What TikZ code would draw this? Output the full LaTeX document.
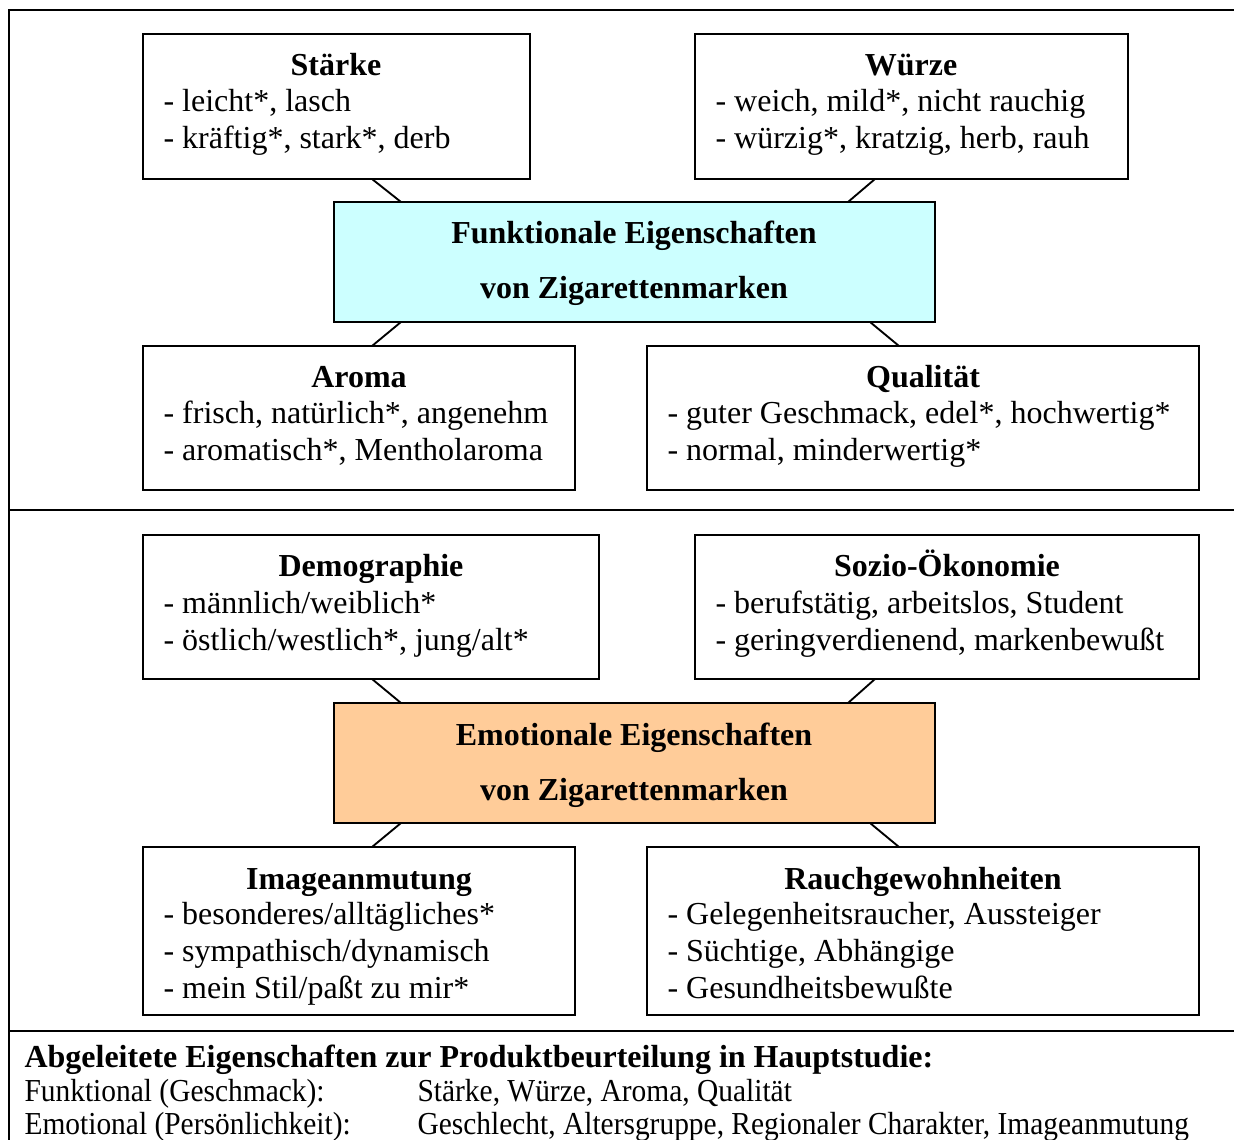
\documentclass[tikz,border=0pt,12pt]{standalone}
\usepackage{fontspec}
\setmainfont{Liberation Serif}
\newfontfamily\narrowserif[FakeStretch=0.92]{Liberation Serif}
\usetikzlibrary{calc,fit}
\definecolor{funk_cyan}{RGB}{204, 255, 255}
\definecolor{emo_orange}{RGB}{255, 204, 153}
\tikzstyle{frame}=[line width=1pt]
\tikzstyle{box}=[draw=black,fill=white,line width=0.7pt,inner sep=0pt,outer sep=0pt]
\tikzstyle{fbox}=[box,fill=funk_cyan]
\tikzstyle{ebox}=[box,fill=emo_orange]
\tikzstyle{ttl}=[inner sep=0pt,anchor=base,font=\normalsize\bfseries]
\tikzstyle{txt}=[inner sep=0pt,anchor=base west,font=\normalsize]
\tikzstyle{sumtxt}=[txt,font=\normalsize\narrowserif]
\tikzstyle{link}=[line width=0.7pt]

\begin{document}
\begin{tikzpicture}[x=0.375pt, y=-0.375pt]
            \useasboundingbox (0, 0) rectangle (1234, 1140);
            \clip (0, 0) rectangle (1234, 1140);
            % frame and section rules
            \draw [style=frame] (9, 1160) -- (9, 10) -- (1250, 10);
            \draw [style=frame] (9, 510) -- (1250, 510);
            \draw [style=frame] (9, 1031) -- (1250, 1031);
            % functional part
            \node [style=box, fit={(143, 34) (530, 179)}] (staerke) {};
            \node [style=box, fit={(695, 34) (1128, 179)}] (wuerze) {};
            \node [style=fbox, fit={(334, 202) (935, 322)}] (funk) {};
            \node [style=box, fit={(143, 346) (575, 490)}] (aroma) {};
            \node [style=box, fit={(647, 346) (1199, 490)}] (qual) {};
            \node [style=ttl] (staerke-t) at (336, 76) {Stärke};
            \node [style=txt] (staerke-1) at (163, 112) {- leicht*, lasch};
            \node [style=txt] (staerke-2) at (163, 149) {- kräftig*, stark*, derb};
            \node [style=ttl] (wuerze-t) at (911, 76) {Würze};
            \node [style=txt] (wuerze-1) at (715, 112) {- weich, mild*, nicht rauchig};
            \node [style=txt] (wuerze-2) at (715, 149) {- würzig*, kratzig, herb, rauh};
            \node [style=ttl] (funk-1) at (634, 244) {Funktionale Eigenschaften};
            \node [style=ttl] (funk-2) at (634, 299) {von Zigarettenmarken};
            \node [style=ttl] (aroma-t) at (359, 388) {Aroma};
            \node [style=txt] (aroma-1) at (163, 424) {- frisch, natürlich*, angenehm};
            \node [style=txt] (aroma-2) at (163, 461) {- aromatisch*, Mentholaroma};
            \node [style=ttl] (qual-t) at (923, 388) {Qualität};
            \node [style=txt] (qual-1) at (667, 424) {- guter Geschmack, edel*, hochwertig*};
            \node [style=txt] (qual-2) at (667, 461) {- normal, minderwertig*};
            \draw [style=link] ($(staerke.south west)+(229, 0)$) to ($(funk.north west)+(67, 0)$);
            \draw [style=link] ($(wuerze.south west)+(180, 0)$) to ($(funk.north east)+(-87, 0)$);
            \draw [style=link] ($(funk.south west)+(67, 0)$) to ($(aroma.north west)+(229, 0)$);
            \draw [style=link] ($(funk.south east)+(-65, 0)$) to ($(qual.north west)+(252, 0)$);
            % emotional part
            \node [style=box, fit={(143, 535) (599, 679)}] (demo) {};
            \node [style=box, fit={(695, 535) (1199, 679)}] (sozio) {};
            \node [style=ebox, fit={(334, 703) (935, 823)}] (emo) {};
            \node [style=box, fit={(143, 847) (575, 1015)}] (image) {};
            \node [style=box, fit={(647, 847) (1199, 1015)}] (rauch) {};
            \node [style=ttl] (demo-t) at (371, 577) {Demographie};
            \node [style=txt] (demo-1) at (163, 613) {- männlich/weiblich*};
            \node [style=txt] (demo-2) at (163, 650) {- östlich/westlich*, jung/alt*};
            \node [style=ttl] (sozio-t) at (947, 577) {Sozio-Ökonomie};
            \node [style=txt] (sozio-1) at (715, 613) {- berufstätig, arbeitslos, Student};
            \node [style=txt] (sozio-2) at (715, 650) {- geringverdienend, markenbewußt};
            \node [style=ttl] (emo-1) at (634, 745) {Emotionale Eigenschaften};
            \node [style=ttl] (emo-2) at (634, 800) {von Zigarettenmarken};
            \node [style=ttl] (image-t) at (359, 889) {Imageanmutung};
            \node [style=txt] (image-1) at (163, 924) {- besonderes/alltägliches*};
            \node [style=txt] (image-2) at (163, 961) {- sympathisch/dynamisch};
            \node [style=txt] (image-3) at (163, 998) {- mein Stil/paßt zu mir*};
            \node [style=ttl] (rauch-t) at (923, 889) {Rauchgewohnheiten};
            \node [style=txt] (rauch-1) at (667, 924) {- Gelegenheitsraucher, Aussteiger};
            \node [style=txt] (rauch-2) at (667, 961) {- Süchtige, Abhängige};
            \node [style=txt] (rauch-3) at (667, 998) {- Gesundheitsbewußte};
            \draw [style=link] ($(demo.south west)+(229, 0)$) to ($(emo.north west)+(67, 0)$);
            \draw [style=link] ($(sozio.south west)+(180, 0)$) to ($(emo.north east)+(-87, 0)$);
            \draw [style=link] ($(emo.south west)+(67, 0)$) to ($(image.north west)+(229, 0)$);
            \draw [style=link] ($(emo.south east)+(-65, 0)$) to ($(rauch.north west)+(252, 0)$);
            % summary
            \node [style=txt, font=\normalsize\bfseries] (sum-t) at (24, 1067) {Abgeleitete Eigenschaften zur Produktbeurteilung in Hauptstudie:};
            \node [style=sumtxt] (sum-f) at (24, 1101) {Funktional (Geschmack):};
            \node [style=sumtxt] (sum-fv) at (417, 1101) {Stärke, Würze, Aroma, Qualität};
            \node [style=sumtxt] (sum-e) at (24, 1134) {Emotional (Persönlichkeit):};
            \node [style=sumtxt] (sum-ev) at (417, 1134) {Geschlecht, Altersgruppe, Regionaler Charakter, Imageanmutung};
    \end{tikzpicture}
\end{document}
